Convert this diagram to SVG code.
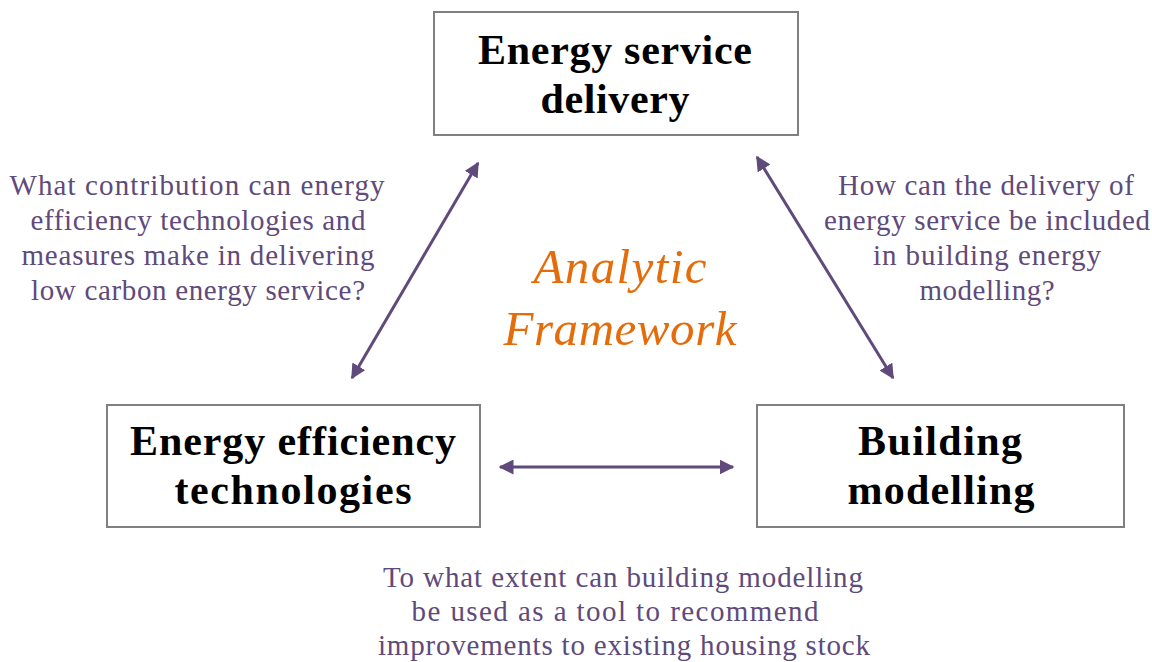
<svg xmlns="http://www.w3.org/2000/svg" width="1152" height="662" viewBox="0 0 1152 662">
<defs>
<style>
.box{fill:#fff;stroke:#808080;stroke-width:2}
.title{font-family:"Liberation Serif",serif;font-weight:bold;font-size:42px;fill:#000;text-anchor:middle}
.q{font-family:"Liberation Serif",serif;font-size:29px;fill:#604a7b;text-anchor:middle}
.af{font-family:"Liberation Serif",serif;font-style:italic;font-size:49px;fill:#e46c0a;text-anchor:middle}
.conn{stroke:#604a7b;stroke-width:3;fill:none;marker-start:url(#ah);marker-end:url(#ah)}
</style>
<marker id="ah" viewBox="0 0 10 10" refX="9" refY="5" markerWidth="5" markerHeight="5" orient="auto-start-reverse" markerUnits="strokeWidth">
<path d="M0,0 L10,5 L0,10 z" fill="#604a7b"/>
</marker>
</defs>
<rect width="1152" height="662" fill="#fff"/>
<g id="connectors">
<line class="conn" x1="352" y1="378" x2="478" y2="163"/>
<line class="conn" x1="757" y1="157" x2="893" y2="378"/>
<line class="conn" x1="500" y1="467" x2="733" y2="467"/>
</g>
<g id="energy-service-delivery">
<rect class="box" x="434" y="12" width="364" height="123"/>
<text class="title" x="615" y="64" textLength="274" lengthAdjust="spacing">Energy service</text>
<text class="title" x="615" y="113" textLength="149" lengthAdjust="spacing">delivery</text>
</g>
<g id="energy-efficiency-technologies">
<rect class="box" x="107" y="405" width="373" height="122"/>
<text class="title" x="293" y="455" textLength="326" lengthAdjust="spacing">Energy efficiency</text>
<text class="title" x="293" y="504" textLength="237" lengthAdjust="spacing">technologies</text>
</g>
<g id="building-modelling">
<rect class="box" x="757" y="405" width="367" height="122"/>
<text class="title" x="940" y="455" textLength="164" lengthAdjust="spacing">Building</text>
<text class="title" x="941" y="504" textLength="187" lengthAdjust="spacing">modelling</text>
</g>
<g id="analytic-framework">
<text class="af" x="620" y="283" textLength="173" lengthAdjust="spacing">Analytic</text>
<text class="af" x="620" y="345" textLength="233" lengthAdjust="spacing">Framework</text>
</g>
<g id="question-left">
<text class="q" x="197" y="195" textLength="375" lengthAdjust="spacing">What contribution can energy</text>
<text class="q" x="198" y="230" textLength="335" lengthAdjust="spacing">efficiency technologies and</text>
<text class="q" x="198" y="265" textLength="353" lengthAdjust="spacing">measures make in delivering</text>
<text class="q" x="198" y="300" textLength="334" lengthAdjust="spacing">low carbon energy service?</text>
</g>
<g id="question-right">
<text class="q" x="986" y="195" textLength="296" lengthAdjust="spacing">How can the delivery of</text>
<text class="q" x="987" y="230" textLength="326" lengthAdjust="spacing">energy service be included</text>
<text class="q" x="987" y="265" textLength="228" lengthAdjust="spacing">in building energy</text>
<text class="q" x="987" y="300" textLength="135" lengthAdjust="spacing">modelling?</text>
</g>
<g id="question-bottom">
<text class="q" x="623" y="587" textLength="480" lengthAdjust="spacing">To what extent can building modelling</text>
<text class="q" x="615" y="621" textLength="407" lengthAdjust="spacing">be used as a tool to recommend</text>
<text class="q" x="624" y="655" textLength="492" lengthAdjust="spacing">improvements to existing housing stock</text>
</g>
</svg>
